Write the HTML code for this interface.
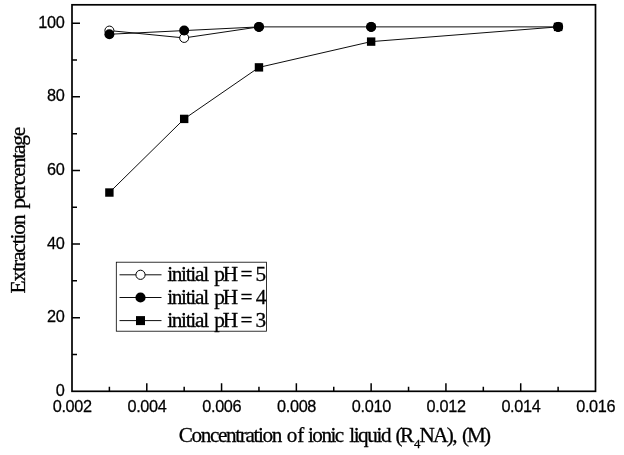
<!DOCTYPE html>
<html><head><meta charset="utf-8"><title>chart</title>
<style>html,body{margin:0;padding:0;background:#fff;}svg{display:block;}text{fill:#000;}</style></head><body>
<svg width="624" height="455" viewBox="0 0 624 455">
<rect x="0" y="0" width="624" height="455" fill="#ffffff"/>
<rect x="72.0" y="4.8" width="523.50" height="386.50" fill="none" stroke="#000" stroke-width="1.7"/>
<path d="M109.39 391.3 v-4.6 M146.79 391.3 v-8 M184.18 391.3 v-4.6 M221.57 391.3 v-8 M258.96 391.3 v-4.6 M296.36 391.3 v-8 M333.75 391.3 v-4.6 M371.14 391.3 v-8 M408.54 391.3 v-4.6 M445.93 391.3 v-8 M483.32 391.3 v-4.6 M520.71 391.3 v-8 M558.11 391.3 v-4.6 M72.0 354.49 h5 M72.0 317.68 h8 M72.0 280.87 h5 M72.0 244.06 h8 M72.0 207.25 h5 M72.0 170.44 h8 M72.0 133.63 h5 M72.0 96.82 h8 M72.0 60.01 h5 M72.0 23.20 h8" stroke="#000" stroke-width="1.5" fill="none"/>
<g font-family="'Liberation Sans', Arial, sans-serif" font-size="16.3px" letter-spacing="-0.35" stroke="#000" stroke-width="0.25">
<text transform="translate(64.5,395.80) scale(1,1.05)" text-anchor="end">0</text>
<text transform="translate(64.5,322.18) scale(1,1.05)" text-anchor="end">20</text>
<text transform="translate(64.5,248.56) scale(1,1.05)" text-anchor="end">40</text>
<text transform="translate(64.5,174.94) scale(1,1.05)" text-anchor="end">60</text>
<text transform="translate(64.5,101.32) scale(1,1.05)" text-anchor="end">80</text>
<text transform="translate(64.5,27.70) scale(1,1.05)" text-anchor="end">100</text>
<text transform="translate(72.20,411.6) scale(1,1.035)" text-anchor="middle">0.002</text>
<text transform="translate(146.99,411.6) scale(1,1.035)" text-anchor="middle">0.004</text>
<text transform="translate(221.77,411.6) scale(1,1.035)" text-anchor="middle">0.006</text>
<text transform="translate(296.56,411.6) scale(1,1.035)" text-anchor="middle">0.008</text>
<text transform="translate(371.34,411.6) scale(1,1.035)" text-anchor="middle">0.010</text>
<text transform="translate(446.13,411.6) scale(1,1.035)" text-anchor="middle">0.012</text>
<text transform="translate(520.91,411.6) scale(1,1.035)" text-anchor="middle">0.014</text>
<text transform="translate(595.70,411.6) scale(1,1.035)" text-anchor="middle">0.016</text>
</g>
<path d="M109.39 30.57 L184.18 37.93 L258.96 26.89" stroke="#000" stroke-width="0.95" fill="none"/>
<path d="M109.39 34.25 L184.18 30.57 L258.96 26.89 L371.14 26.89 L558.11 26.89" stroke="#000" stroke-width="0.95" fill="none"/>
<path d="M109.39 192.53 L184.18 118.91 L258.96 67.38 L371.14 41.61 L558.11 26.89" stroke="#000" stroke-width="0.95" fill="none"/>
<circle cx="109.39" cy="30.57" r="4.5" fill="#fff" stroke="#000" stroke-width="1"/>
<circle cx="184.18" cy="37.93" r="4.5" fill="#fff" stroke="#000" stroke-width="1"/>
<circle cx="258.96" cy="26.89" r="4.5" fill="#fff" stroke="#000" stroke-width="1"/>
<circle cx="371.14" cy="26.89" r="4.5" fill="#fff" stroke="#000" stroke-width="1"/>
<circle cx="558.11" cy="26.89" r="4.5" fill="#fff" stroke="#000" stroke-width="1"/>
<circle cx="109.39" cy="34.25" r="5" fill="#000"/>
<circle cx="184.18" cy="30.57" r="5" fill="#000"/>
<circle cx="258.96" cy="26.89" r="5" fill="#000"/>
<circle cx="371.14" cy="26.89" r="5" fill="#000"/>
<circle cx="558.11" cy="26.89" r="5" fill="#000"/>
<rect x="105.19" y="188.33" width="8.4" height="8.4" fill="#000"/>
<rect x="179.98" y="114.71" width="8.4" height="8.4" fill="#000"/>
<rect x="254.76" y="63.18" width="8.4" height="8.4" fill="#000"/>
<rect x="366.94" y="37.41" width="8.4" height="8.4" fill="#000"/>
<rect x="553.91" y="22.69" width="8.4" height="8.4" fill="#000"/>
<rect x="116.3" y="262.2" width="150.2" height="69" fill="#fff" stroke="#000" stroke-width="0.8"/>
<path d="M119.5 274.8 H161.5" stroke="#000" stroke-width="0.95"/>
<path d="M119.5 297.5 H161.5" stroke="#000" stroke-width="0.95"/>
<path d="M119.5 320.6 H161.5" stroke="#000" stroke-width="0.95"/>
<circle cx="140.5" cy="274.8" r="4.6" fill="#fff" stroke="#000" stroke-width="1"/>
<circle cx="140.5" cy="297.5" r="5.1" fill="#000"/>
<rect x="136.0" y="316.1" width="9" height="9" fill="#000"/>
<g font-family="'Liberation Serif', 'Times New Roman', serif" stroke="#000" stroke-width="0.3">
<text font-size="21.3px"><tspan x="167.15" y="280.60" letter-spacing="-1.292">initial</tspan> <tspan x="214.25" y="280.60" letter-spacing="-2.15">pH</tspan> <tspan x="240.38" y="280.60">=</tspan> <tspan x="255.60" y="280.60">5</tspan></text>
<text font-size="21.3px"><tspan x="167.15" y="303.50" letter-spacing="-1.292">initial</tspan> <tspan x="214.25" y="303.50" letter-spacing="-2.15">pH</tspan> <tspan x="240.38" y="303.50">=</tspan> <tspan x="255.72" y="303.50">4</tspan></text>
<text font-size="21.3px"><tspan x="167.15" y="326.70" letter-spacing="-1.292">initial</tspan> <tspan x="214.25" y="326.70" letter-spacing="-2.15">pH</tspan> <tspan x="240.38" y="326.70">=</tspan> <tspan x="255.47" y="326.70">3</tspan></text>
<text transform="scale(0.98,1)" font-size="21.6px"><tspan x="182.40" y="441.80" letter-spacing="-1.386">Concentration</tspan> <tspan x="292.55" y="441.80">of</tspan> <tspan x="314.34" y="441.80" letter-spacing="-1.582">ionic</tspan> <tspan x="356.28" y="441.80" letter-spacing="-1.429">liquid</tspan> <tspan x="403.62" y="441.80" letter-spacing="-2.551">(R</tspan><tspan x="422.45" y="448.50" font-size="13px">4</tspan><tspan x="427.96" y="441.80" letter-spacing="-1.65">NA),</tspan> <tspan x="471.38" y="441.80" letter-spacing="-1.939">(M)</tspan></text>
<text transform="translate(24.8,292.9) rotate(-90)" font-size="21.5px"><tspan x="-0.50" y="0.00" letter-spacing="-1.178">Extraction</tspan> <tspan x="84.05" y="0.00" letter-spacing="-1.206">percentage</tspan></text>
</g>
</svg></body></html>
